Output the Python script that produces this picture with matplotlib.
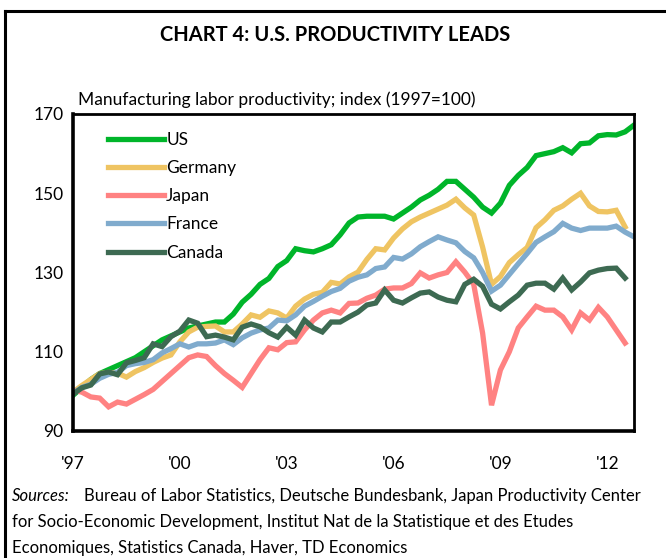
import numpy as np
import matplotlib.pyplot as plt
from matplotlib.lines import Line2D

# quarterly index values, 1997Q1 onward (1997=100)
us = [99, 101, 103, 104.5, 105.5, 106.5, 107.5, 108.5, 110, 111.5, 113, 114,
      115, 116, 116.5, 117, 117.5, 117.5, 119.5, 122.5, 124.5, 127, 128.5, 131.5,
      133, 136, 135.5, 135.2, 136, 137, 139.5, 142.5, 144, 144.2, 144.2, 144.2,
      143.5, 145, 146.5, 148.3, 149.5, 151, 153, 153, 151, 149, 146.5, 145,
      147.5, 152, 154.5, 156.5, 159.5, 160, 160.5, 161.5, 160.2, 162.5, 162.7, 164.5,
      164.8, 164.7, 165.5, 167.2]
germany = [99.8, 101.5, 103, 104.5, 104.8, 104.6, 103.6, 105, 106, 107.3, 108.4, 109.2,
           112.5, 115, 116.2, 116.4, 116.5, 115, 115, 117, 119.3, 118.7, 120.3, 119.8,
           118.5, 121.5, 123.3, 124.5, 125, 127.5, 127.1, 128.9, 130.1, 133.3, 136, 135.7,
           138.7, 141, 142.8, 144, 145, 146, 147, 148.5, 146.3, 144.5, 136.4, 127,
           129, 132.5, 134.5, 136.3, 141.3, 143.3, 145.7, 146.8, 148.5, 150, 146.8, 145.4,
           145.3, 145.7, 141.5]
japan = [100.3, 99.8, 98.6, 98.3, 96.1, 97.3, 96.8, 98, 99.2, 100.5, 102.5, 104.5,
         106.5, 108.5, 109.2, 108.8, 106.5, 104.5, 102.8, 101, 104.5, 108, 111, 110.5,
         112.3, 112.5, 115.5, 118, 119.8, 120.5, 119.8, 122.2, 122.3, 123.5, 124.3, 125.8,
         126.1, 126.1, 127.2, 129.9, 128.6, 129.4, 130, 132.7, 130.1, 127, 114.7, 96.5,
         105.4, 110, 116, 118.8, 121.5, 120.5, 120.5, 118.8, 115.5, 119.8, 118, 121.2,
         118.8, 115.5, 112.2]
france = [99.5, 101, 101.8, 103.3, 104.3, 104.8, 106.5, 107, 107.3, 108, 109.7, 110.8,
          112, 111.2, 112, 112, 112.2, 113, 111.8, 113.5, 114.7, 115.5, 116, 118,
          117.8, 119.3, 121.5, 122.7, 124, 125.2, 126, 127.8, 128.8, 129.4, 131, 131.4,
          133.8, 133.4, 134.7, 136.5, 137.8, 139, 138.2, 137.5, 135.3, 133.7, 130, 125.3,
          126.8, 129.5, 132.2, 134.8, 137.6, 139, 140.3, 142.4, 141.2, 140.6, 141.2, 141.2,
          141.2, 141.7, 140.2, 139]
canada = [99.3, 100.9, 101.6, 104.4, 104.9, 104.2, 107.2, 107.8, 108.5, 112, 111.3, 113.8,
          115.2, 118, 117.2, 113.8, 114.2, 113.7, 113, 116.2, 117, 116.3, 114.8, 113.7,
          116.2, 114.2, 118, 116, 115, 117.5, 117.5, 118.8, 120, 121.8, 122.3, 125.6,
          123, 122.3, 123.6, 124.8, 125.1, 123.8, 123, 122.6, 127, 128.3, 126.5, 122,
          120.8, 122.6, 124.3, 126.8, 127.3, 127.3, 125.8, 128.6, 125.6, 127.6, 129.9, 130.6,
          131, 131.1, 128.6]

series = [('US', us, '#00b52a'),
          ('Germany', germany, '#efc462'),
          ('Japan', japan, '#ff8282'),
          ('France', france, '#80abcd'),
          ('Canada', canada, '#3d6a52')]

tick_years = [1997, 2000, 2003, 2006, 2009, 2012]
tick_labels = ["'97", "'00", "'03", "'06", "'09", "'12"]
yticks = [90, 110, 130, 150, 170]

plt.rcParams['font.family'] = ['Lato', 'DejaVu Sans']

fig = plt.figure(figsize=(6.66, 5.58), dpi=100)
ax = fig.add_axes([73/666, 1-431/558, (634-73)/666, (431-114)/558])

for name, vals, col in series:
    t = 1997 + np.arange(len(vals)) / 4.0
    ax.plot(t, vals, color=col, lw=3.8, label=name, solid_joinstyle='miter')

ax.set_xlim(1997, 2012.75)
ax.set_ylim(90, 170)
ax.set_xticks(tick_years)
ax.set_xticklabels(tick_labels)
ax.set_yticks(yticks)
ax.tick_params(length=0, labelsize=12.5)
ax.tick_params(axis='x', pad=18)
ax.tick_params(axis='y', pad=7)
for sp in ax.spines.values():
    sp.set_linewidth(2)
ax.spines['left'].set_linewidth(2.6)
ax.spines['bottom'].set_linewidth(2.6)

leg = ax.legend(loc='upper left', bbox_to_anchor=(35/561, 1-18/317), frameon=False,
                fontsize=12.5, handlelength=3.2, handletextpad=0.15,
                labelspacing=0.7, borderaxespad=0, borderpad=0)

# outer border (left and top only)
fig.add_artist(Line2D([5/666, 5/666], [0, 1-11/558], color='black', lw=2.2))
fig.add_artist(Line2D([5/666, 1], [1-11/558, 1-11/558], color='black', lw=2.2))

fig.text(335/666, 1-35/558, 'CHART 4: U.S. PRODUCTIVITY LEADS', ha='center', va='center',
         fontsize=14.5, fontweight='bold')
fig.text(78/666, 1-100/558, 'Manufacturing labor productivity; index (1997=100)',
         ha='left', va='center', fontsize=12.5)

fig.text(12/666, 1-496/558, 'Sources:', ha='left', va='center', fontsize=12, style='italic')
fig.text(84/666, 1-496/558, 'Bureau of Labor Statistics, Deutsche Bundesbank, Japan Productivity Center',
         ha='left', va='center', fontsize=12)
fig.text(12/666, 1-522/558, 'for Socio-Economic Development, Institut Nat de la Statistique et des Etudes',
         ha='left', va='center', fontsize=12)
fig.text(12/666, 1-548/558, 'Economiques, Statistics Canada, Haver, TD Economics',
         ha='left', va='center', fontsize=12)

fig.savefig('out.png', dpi=100)
